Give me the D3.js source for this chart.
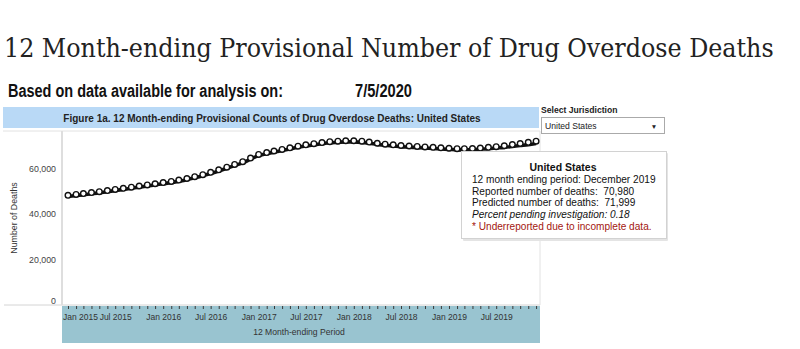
<!DOCTYPE html>
<html>
<head>
<meta charset="utf-8">
<script src="https://cdn.jsdelivr.net/npm/d3@7"></script>
<style>
  html, body { margin: 0; padding: 0; background: #fff; }
  svg { display: block; }
  text { font-family: "Liberation Sans", Arial, sans-serif; }
</style>
</head>
<body>
<svg id="chart" width="800" height="349"></svg>
<script>
// ---------- data ----------
const months = d3.timeMonth.range(new Date(2015, 0, 1), new Date(2020, 0, 1));
// Predicted provisional counts (circles), 12 month-ending, Jan 2015 .. Dec 2019
const predicted = [
  48200, 48600, 49000, 49400, 49800, 50300, 50800, 51300, 51800, 52300, 52800, 53300,
  53800, 54300, 54900, 55600, 56400, 57300, 58300, 59400, 60600, 61800, 63000, 64600,
  66200, 67000, 67700, 68400, 69100, 69800, 70400, 70900, 71400, 71800, 72000, 72200,
  72200, 72000, 71600, 71100, 70700, 70400, 70100, 69900, 69700, 69500, 69300, 69100,
  68900, 68700, 68700, 68800, 69000, 69300, 69600, 70000, 70500, 71000, 71500, 71999
];
// Reported provisional counts (line)
const reported = [
  47700, 48100, 48500, 48900, 49300, 49800, 50300, 50800, 51300, 51800, 52300, 52800,
  53300, 53800, 54400, 55100, 55900, 56800, 57800, 58900, 60100, 61300, 62500, 64100,
  65700, 66500, 67200, 67900, 68600, 69300, 69900, 70400, 70900, 71300, 71500, 71700,
  71700, 71500, 71100, 70600, 70200, 69900, 69600, 69400, 69200, 69000, 68800, 68600,
  68400, 68200, 68200, 68300, 68500, 68700, 69000, 69300, 69700, 70100, 70500, 70980
];
const yTicks = [0, 20000, 40000, 60000];
const xLabelMonths = [0, 6]; // January and July labelled
const tooltipLines = [
  "12 month ending period: December 2019",
  "Reported number of deaths:  70,980",
  "Predicted number of deaths:  71,999"
];

// ---------- layout ----------
const svg = d3.select("#chart");
const plotL = 62, plotR = 540, plotT = 131, plotB = 305;

const x = d3.scaleTime()
  .domain([new Date(2014, 11, 9), new Date(2019, 11, 16)])
  .range([plotL, plotR]);
const y = d3.scaleLinear().domain([0, 60000]).range([plotB, 168.5]);

// Title (font size fitted to the reference width)
const title = svg.append("text")
  .attr("x", 4).attr("y", 57)
  .style("font-family", "'DejaVu Serif Condensed', 'DejaVu Serif', serif")
  .style("font-size", "28px").style("fill", "#222")
  .text("12 Month-ending Provisional Number of Drug Overdose Deaths");
{
  const w = title.node().getComputedTextLength();
  title.style("font-size", (28 * 770 / w).toFixed(2) + "px");
}

// Subtitle
svg.append("text")
  .attr("x", 8).attr("y", 97)
  .attr("textLength", 275).attr("lengthAdjust", "spacingAndGlyphs")
  .style("font-family", "'Liberation Sans Narrow', 'Liberation Sans', Arial, sans-serif")
  .style("font-weight", "bold").style("font-size", "17.5px").style("fill", "#111")
  .text("Based on data available for analysis on:");
svg.append("text")
  .attr("x", 355).attr("y", 97)
  .attr("textLength", 57).attr("lengthAdjust", "spacingAndGlyphs")
  .style("font-family", "'Liberation Sans Narrow', 'Liberation Sans', Arial, sans-serif")
  .style("font-weight", "bold").style("font-size", "17.5px").style("fill", "#111")
  .text("7/5/2020");

// Header band
svg.append("rect").attr("x", 3).attr("y", 107).attr("width", 536).attr("height", 21)
  .attr("fill", "#b9d9f6");
svg.append("text")
  .attr("x", 272).attr("y", 121.5).attr("text-anchor", "middle")
  .style("font-weight", "bold").style("font-size", "10px").style("fill", "#222")
  .text("Figure 1a. 12 Month-ending Provisional Counts of Drug Overdose Deaths: United States");

// Plot frame lines
svg.append("line").attr("x1", 3).attr("x2", plotR).attr("y1", plotT).attr("y2", plotT)
  .attr("stroke", "#e2e2e2").attr("stroke-width", 1);
svg.append("line").attr("x1", 4).attr("x2", plotR).attr("y1", plotB).attr("y2", plotB)
  .attr("stroke", "#d4d4d4").attr("stroke-width", 1);
svg.append("line").attr("x1", plotL).attr("x2", plotL).attr("y1", plotT).attr("y2", plotB)
  .attr("stroke", "#dedede").attr("stroke-width", 2);
svg.append("line").attr("x1", plotR).attr("x2", plotR).attr("y1", plotT).attr("y2", plotB)
  .attr("stroke", "#e2e2e2").attr("stroke-width", 1);

// X band
svg.append("rect").attr("x", plotL).attr("y", plotB + 1).attr("width", plotR - plotL)
  .attr("height", 37).attr("fill", "#99c4d0");

// X axis
const fmt = d3.timeFormat("%b %Y");
const xAxis = d3.axisBottom(x)
  .tickValues(months)
  .tickSize(3)
  .tickFormat(d => xLabelMonths.includes(d.getMonth()) ? fmt(d) : "");
const gx = svg.append("g").attr("transform", `translate(0,${plotB + 1})`).call(xAxis);
gx.select(".domain").remove();
gx.selectAll(".tick line").attr("stroke", "#3a3a3a").attr("stroke-width", 1);
gx.selectAll(".tick text")
  .attr("y", 8).attr("dy", "0.71em")
  .style("font-size", "8.5px").style("fill", "#333").style("font-family", "'Liberation Sans', Arial, sans-serif");
gx.selectAll(".tick").filter((d, i) => i === 0).select("text")
  .attr("text-anchor", "start").attr("x", plotL - x(months[0]) + 0.5);

svg.append("text")
  .attr("x", 299).attr("y", 335).attr("text-anchor", "middle")
  .style("font-size", "8.6px").style("fill", "#333")
  .text("12 Month-ending Period");

// Y axis
const yAxis = d3.axisLeft(y).tickValues(yTicks).tickSize(0).tickPadding(6)
  .tickFormat(d3.format(","));
const gy = svg.append("g").attr("transform", `translate(${plotL},0)`).call(yAxis);
gy.select(".domain").remove();
gy.selectAll(".tick text")
  .style("font-size", "8.8px").style("fill", "#444").style("font-family", "'Liberation Sans', Arial, sans-serif");
gy.selectAll(".tick").filter(d => d === 0).select("text").attr("y", -4);

svg.append("text")
  .attr("transform", "translate(17,218) rotate(-90)")
  .attr("text-anchor", "middle")
  .style("font-size", "8.8px").style("fill", "#333")
  .text("Number of Deaths");

// Reported line
const line = d3.line()
  .x((d, i) => x(months[i]))
  .y(d => y(d))
  .curve(d3.curveMonotoneX);
svg.append("path").datum(reported)
  .attr("d", line).attr("fill", "none")
  .attr("stroke", "#111").attr("stroke-width", 3.6);

// Predicted circles
svg.append("g").selectAll("circle").data(predicted).join("circle")
  .attr("cx", (d, i) => x(months[i]))
  .attr("cy", d => y(d))
  .attr("r", 2.8)
  .attr("fill", "#fff").attr("stroke", "#111").attr("stroke-width", 1.4);

// Select jurisdiction
svg.append("text").attr("x", 541).attr("y", 113)
  .style("font-weight", "bold").style("font-size", "8.6px").style("fill", "#222")
  .text("Select Jurisdiction");
svg.append("rect").attr("x", 541.5).attr("y", 117.5).attr("width", 123).attr("height", 16)
  .attr("fill", "#fff").attr("stroke", "#aaa");
svg.append("text").attr("x", 545).attr("y", 129)
  .style("font-size", "8.6px").style("fill", "#222").text("United States");
svg.append("text").attr("x", 654).attr("y", 128.5).attr("text-anchor", "middle")
  .style("font-size", "6.5px").style("fill", "#222").text("▼");

// Tooltip
const tt = svg.append("g");
tt.append("rect").attr("x", 463).attr("y", 153).attr("width", 205).attr("height", 88)
  .attr("fill", "#e4e4e4").attr("rx", 1);
tt.append("rect").attr("x", 461.5).attr("y", 151.5).attr("width", 205).attr("height", 87)
  .attr("fill", "#fff").attr("stroke", "#d2d2d2");
tt.append("text").attr("x", 563).attr("y", 171).attr("text-anchor", "middle")
  .style("font-weight", "bold").style("font-size", "10.5px").style("fill", "#111")
  .text("United States");
tt.selectAll("text.line").data(tooltipLines).join("text").attr("class", "line")
  .attr("x", 472).attr("y", (d, i) => 183 + i * 11.7)
  .style("font-size", "10.1px").style("fill", "#111").style("white-space", "pre")
  .text(d => d);
tt.append("text").attr("x", 472).attr("y", 183 + 3 * 11.7)
  .style("font-size", "10.1px").style("font-style", "italic").style("fill", "#111")
  .text("Percent pending investigation: 0.18");
tt.append("text").attr("x", 472).attr("y", 183 + 4 * 11.7)
  .style("font-size", "10.1px").style("fill", "#a3160f")
  .text("* Underreported due to incomplete data.");
</script>
</body>
</html>
